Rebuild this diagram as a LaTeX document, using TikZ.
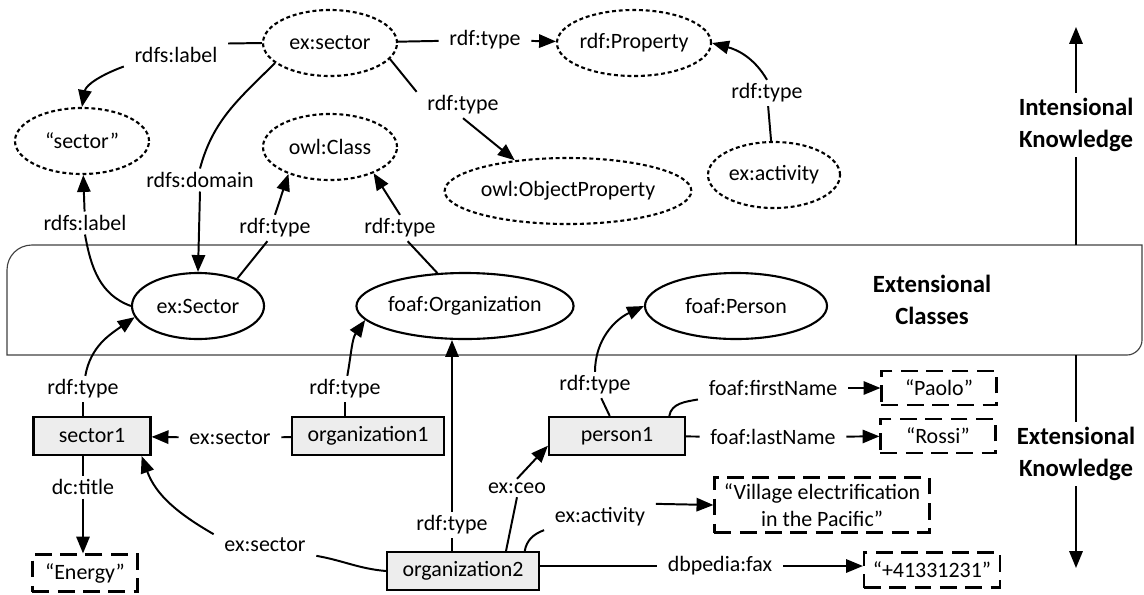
\documentclass[tikz,border=0pt]{standalone}
\usepackage{fontspec}
\setmainfont{Carlito}
\usetikzlibrary{shapes,arrows.meta}

\begin{document}
\begin{tikzpicture}[x=0.025cm, y=-0.025cm, line width=1.4pt, >={Triangle[length=12pt,width=9.5pt]},
    font=\fontsize{15.6}{19.5}\selectfont,
    schema/.style={ellipse, draw, line width=1.5pt, dash pattern=on 2.8pt off 2pt, minimum height=1.65cm, inner sep=0pt},
    cls/.style={ellipse, draw, line width=1.5pt, minimum height=1.65cm, inner sep=0pt},
    inst/.style={rectangle, draw, line width=1.5pt, fill=black!7, minimum height=0.95cm, inner sep=0pt},
    lit/.style={rectangle, draw, line width=1.5pt, dash pattern=on 12pt off 6pt, minimum height=0.875cm, inner sep=0pt, align=center},
    lbl/.style={inner xsep=7pt, inner ysep=2pt},
    heading/.style={font=\fontsize{17.6}{22.8}\selectfont\bfseries, align=center}]

    \useasboundingbox (0,0) rectangle (1144,594);

    % band of the extensional classes
    \draw[line width=0.8pt, black!75] (7,355) -- (7,270) .. controls (7,256) and (18,245) .. (32,245) -- (1142,245)
        -- (1142,340) .. controls (1142,348) and (1135,355) .. (1127,355) -- cycle;
    \coordinate (bandTop) at (1076,245);
    \coordinate (bandBot) at (1076,355);

    % intensional knowledge
    \node[schema, minimum width=3.35cm] (exsec) at (330,43) {ex:sector};
    \node[schema, minimum width=3.3cm] (rdfprop) at (634,43) {rdf:Property};
    \node[schema, minimum width=3.35cm] (seclit) at (82,141) {“sector”};
    \node[schema, minimum width=3.35cm] (owlclass) at (330,147) {owl:Class};
    \node[schema, minimum width=5.175cm] (owlobj) at (568,191) {owl:ObjectProperty};
    \node[schema, minimum width=3.3cm] (exact) at (774,175) {ex:activity};

    % extensional classes
    \node[cls, minimum width=3.3cm] (exSector) at (198,306) {ex:Sector};
    \node[cls, minimum width=4.35cm] (foafOrg) at (465,306) {foaf:Organization};
    \node[cls, minimum width=4.55cm] (foafPerson) at (736,306) {foaf:Person};
    \node[heading] (extC) at (932,300) {Extensional\\Classes};

    % instances and literals
    \node[inst, minimum width=2.925cm] (sector1) at (92,436) {sector1};
    \node[inst, minimum width=3.8cm] (org1) at (368,436) {organization1};
    \node[inst, minimum width=3.4cm] (person1) at (617,436) {person1};
    \node[inst, minimum width=3.8cm] (org2) at (463,571) {organization2};
    \node[lit, minimum width=2.625cm, minimum height=0.925cm] (energy) at (85,573) {“Energy”};
    \node[lit, minimum width=2.875cm, minimum height=0.85cm] (paolo) at (939,388) {“Paolo”};
    \node[lit, minimum width=2.875cm, minimum height=0.85cm] (rossi) at (938,436) {“Rossi”};
    \node[lit, minimum width=5.375cm, minimum height=1.375cm] (village) at (822,505) {“Village electrification\\in the Pacific”};
    \node[lit, minimum width=3.4cm] (fax) at (932,570) {“+41331231”};

    % property labels
    \node[lbl] (lLabelA) at (176,55) {rdfs:label};
    \node[lbl] (lTypeA) at (485,40) {rdf:type};
    \node[lbl] (lTypeB) at (463,105) {rdf:type};
    \node[lbl] (lDomain) at (200,180) {rdfs:domain};
    \node[lbl] (lTypeC) at (767,93) {rdf:type};
    \node[lbl] (lLabelB) at (85,223) {rdfs:label};
    \node[lbl] (lTypeD) at (275,228) {rdf:type};
    \node[lbl] (lTypeE) at (400,228) {rdf:type};
    \node[lbl] (lTypeF) at (83,389) {rdf:type};
    \node[lbl] (lTypeG) at (345,389) {rdf:type};
    \node[lbl] (lTypeH) at (595,385) {rdf:type};
    \node[lbl] (lFirst) at (773,388) {foaf:firstName};
    \node[lbl] (lLast) at (773,437) {foaf:lastName};
    \node[lbl] (lSecA) at (230,438) {ex:sector};
    \node[lbl] (lTitle) at (83,487) {dc:title};
    \node[lbl] (lCeo) at (517,488) {ex:ceo};
    \node[lbl] (lAct) at (600,517) {ex:activity};
    \node[lbl] (lTypeI) at (452,525) {rdf:type};
    \node[lbl] (lSecB) at (265,545) {ex:sector};
    \node[lbl] (lFax) at (720,566) {dbpedia:fax};

    % side headings
    \node[heading] (intK) at (1076,125) {Intensional\\Knowledge};
    \node[heading] (extK) at (1076,454) {Extensional\\Knowledge};
    \coordinate (upTip) at (1076,27);
    \coordinate (downTip) at (1076,568);
    \draw[->] (intK) -- (upTip);
    \draw (intK) -- (bandTop);
    \draw (bandBot) -- (extK);
    \draw[->] (extK) -- (downTip);

    % schema level
    \draw (exsec.west) -- (lLabelA.north east);
    \draw[->] (lLabelA.south west) to[out=200, in=80] (seclit.north);
    \draw (exsec) -- (lTypeA);
    \draw[->] (lTypeA) -- (rdfprop);
    \draw (exsec.-15) -- (lTypeB.north west);
    \draw[->] (lTypeB.south) -- (owlobj.150);
    \draw (exsec.200) to[out=225, in=75] (lDomain.north);
    \draw[->] (lDomain.south) -- (exSector.north);
    \draw (exact) -- (lTypeC);
    \draw[->] (lTypeC.north) to[out=120, in=-15] (rdfprop.east);

    % classes
    \draw (exSector.west) to[out=160, in=-80] (lLabelB.south);
    \draw[->] (lLabelB) -- (seclit);
    \draw (exSector.35) -- (lTypeD.240);
    \draw[->] (lTypeD.north) -- (owlclass.213);
    \draw (foafOrg.130) -- (lTypeE.300);
    \draw[->] (lTypeE.north) -- (owlclass.-31);

    % instances
    \draw (sector1.north -| lTypeF) -- (lTypeF);
    \draw[->] (lTypeF) to[out=80, in=215] (exSector.190);
    \draw (org1.north -| lTypeG) -- (lTypeG);
    \draw[->] (lTypeG) to[out=80, in=235] (foafOrg.188);
    \draw (person1.110) -- (lTypeH);
    \draw[->] (lTypeH) to[out=90, in=205] (foafPerson.west);
    \draw (person1.21) to[out=80, in=190] (lFirst.south west);
    \draw[->] (lFirst) -- (paolo);
    \draw (person1) -- (lLast);
    \draw[->] (lLast) -- (rossi);
    \draw (org1) -- (lSecA);
    \draw[->] (lSecA) -- (sector1);
    \draw (sector1.south -| lTitle) -- (lTitle);
    \draw[->] (lTitle) -- (lTitle |- energy.north);
    \draw (org2.25) -- (lCeo.south);
    \draw[->] (lCeo.north) -- (person1.188);
    \draw (org2.18) to[out=80, in=200] (lAct.south west);
    \draw[->] (lAct.north east) -- (village.west);
    \draw (org2.north -| lTypeI) -- (lTypeI);
    \draw[->] (lTypeI) -- (lTypeI |- foafOrg.south);
    \draw (org2.west) to[out=175, in=-10] (lSecB.south east);
    \draw[->] (lSecB.north west) to[out=150, in=-70] (sector1.-22);
    \draw (org2.east |- lFax) -- (lFax);
    \draw[->] (lFax) -- (lFax -| fax.west);

\end{tikzpicture}
\end{document}
